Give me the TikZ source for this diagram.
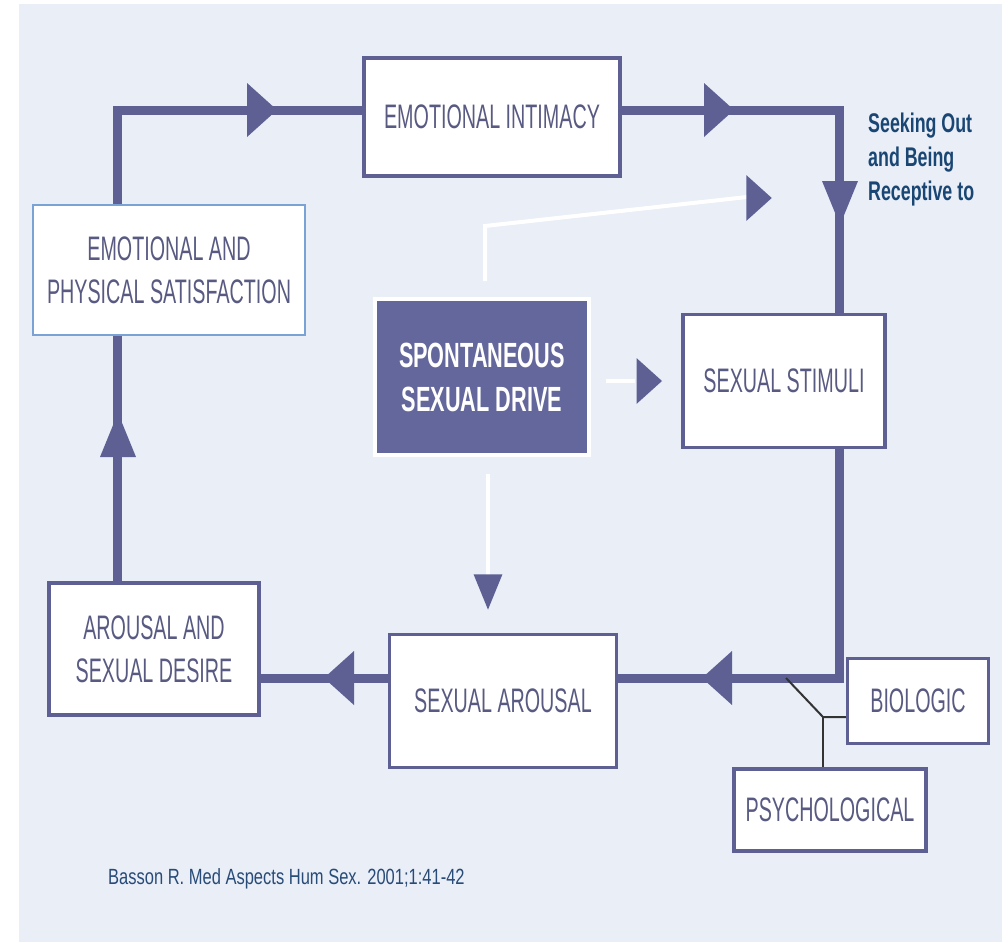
\documentclass[tikz,border=0pt]{standalone}
\usepackage{fontspec}
\usepackage{tikz}
\usetikzlibrary{calc}

\newfontfamily\boxfont{Liberation Sans}[FakeStretch=0.58]
\newfontfamily\drivefont{Liberation Sans}[FakeStretch=0.62]
\newfontfamily\seekfont{Liberation Sans}[FakeStretch=0.66]
\newfontfamily\citefont{Liberation Sans}[FakeStretch=0.75]

\definecolor{bgc}{RGB}{233,238,247}
\definecolor{loopc}{RGB}{94,96,148}
\definecolor{txtc}{RGB}{88,90,130}
\definecolor{drivec}{RGB}{100,103,155}
\definecolor{satc}{RGB}{122,162,212}
\definecolor{seekc}{RGB}{25,70,115}
\definecolor{citec}{RGB}{40,75,120}

\begin{document}
\begin{tikzpicture}[x=1pt,y=-1pt,
    box/.style={draw=loopc,line width=3.5pt,fill=white,text=txtc,align=center,
        inner sep=0pt,font=\boxfont\fontsize{34}{43}\selectfont},
    loopline/.style={draw=loopc,line width=9pt},
    wline/.style={draw=white,line width=4pt},
    link/.style={draw=black!80,line width=2pt},
    htip/.pic={\fill[loopc] (-15,-27) -- (15,0) -- (-15,27) -- cycle;},
    vtip/.pic={\fill[loopc] (-18,-22) -- (0,22) -- (18,-22) -- cycle;}]

    % fond
    \useasboundingbox (0,0) rectangle (1008,942);
    \fill[white] (0,0) rectangle (1008,942);
    \fill[bgc] (19,4) rectangle (1002,942);

    % boites
    \node[box,minimum width=256pt,minimum height=118pt] (intim) at (492,117) {EMOTIONAL INTIMACY};
    \node[box,draw=satc,line width=2.5pt,minimum width=272pt,minimum height=130pt] (sat) at (169,270)
        {EMOTIONAL AND\\PHYSICAL SATISFACTION};
    \node[box,fill=drivec,draw=white,line width=4pt,text=white,font=\drivefont\bfseries\fontsize{35}{44}\selectfont,
        minimum width=214pt,minimum height=156pt] (drive) at (482,377) {SPONTANEOUS\\SEXUAL DRIVE};
    \node[box,minimum width=202pt,minimum height=133pt] (stim) at (784,381) {SEXUAL STIMULI};
    \node[box,minimum width=210pt,minimum height=132pt] (desire) at (154,649) {AROUSAL AND\\SEXUAL DESIRE};
    \node[box,minimum width=227pt,minimum height=133pt] (sarous) at (503,701) {SEXUAL AROUSAL};
    \node[box,minimum width=141pt,minimum height=85pt] (bio) at (918,701) {BIOLOGIC};
    \node[box,minimum width=192pt,minimum height=82pt] (psych) at (830,810) {PSYCHOLOGICAL};

    % le cycle
    \coordinate (tl) at (117,110);
    \coordinate (tr) at (839,110);
    \coordinate (br) at (839,678);
    \draw[loopline] (sat.north -| tl) -- (tl) -- (tl -| intim.west);
    \draw[loopline] (tl -| intim.east) -- (tr) -- (stim.north -| tr);
    \draw[loopline] (stim.south -| br) -- (br) -- (br -| sarous.east);
    \draw[loopline] (br -| sarous.west) -- (br -| desire.east);
    \draw[loopline] (desire.north -| tl) -- (sat.south -| tl);
    \pic at (262,110) {htip};
    \pic at (719,110) {htip};
    \pic at (840,203) {vtip};
    \pic[xscale=-1] at (717,678) {htip};
    \pic[xscale=-1] at (339,678) {htip};
    \pic[yscale=-1] at (118,435) {vtip};

    % fleches blanches
    \draw[wline] ($(drive.north)+(3,-16)$) -- ++(0,-55) -- (747,197);
    \pic[scale=0.85] at (759,198) {htip};
    \draw[wline] ($(drive.east)+(15,4)$) -- ($(stim.west)+(-46,0)$);
    \pic[scale=0.85] at ($(stim.west)+(-32,0)$) {htip};
    \draw[wline] ($(drive.south)+(6,17)$) -- (488,580);
    \pic[scale=0.8] at (488,592) {vtip};

    % biologic / psychological
    \coordinate (tap) at (786,678);
    \coordinate (jn) at (823,717);
    \draw[link] (tap) -- (jn) -- (jn -| bio.west);
    \draw[link] (jn) -- (jn |- psych.north);

    % textes
    \node[anchor=north west,inner sep=0pt,align=left,text=seekc,
        font=\seekfont\bfseries\fontsize{27}{34}\selectfont] (seek) at (868,113)
        {Seeking Out\\and Being\\Receptive to};
    \node[anchor=base west,inner sep=0pt,text=citec,font=\citefont\fontsize{22}{26}\selectfont] (cite) at (108,884)
        {Basson R. Med Aspects Hum Sex. 2001;1:41-42};
\end{tikzpicture}
\end{document}
